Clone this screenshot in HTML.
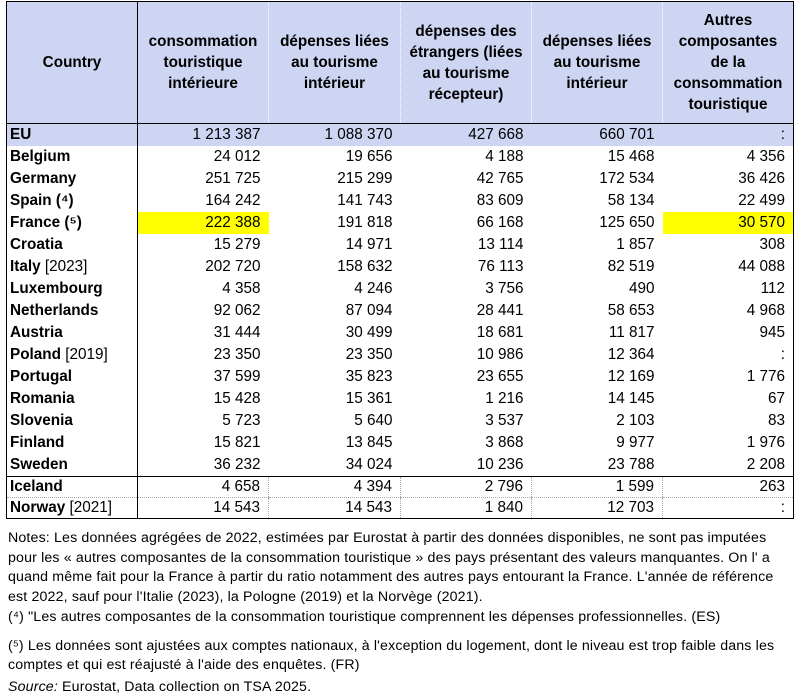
<!DOCTYPE html>
<html><head><meta charset="utf-8"><style>
body{margin:0;background:#fff;width:801px;height:700px;overflow:hidden;font-family:"Liberation Sans",Arial,sans-serif;color:#000}
table{position:absolute;left:6px;top:1px;border-collapse:collapse;table-layout:fixed;font-size:15.3px}
td,th{padding:0 8px 0 3px;height:22px;line-height:22px;white-space:nowrap;text-align:right}
td:first-child{text-align:left;font-weight:bold;padding-left:3px}
th{background:#cdd5f2;font-weight:bold;text-align:center;white-space:normal;line-height:21px;height:121px;padding:0 7px;font-size:15.3px;border-bottom:1.5px solid #000}
th+th{border-left:1px dotted #fff}
th:first-child{border-right:1.5px solid #000}
td:first-child{border-right:1.5px solid #000}
tr.eu td{background:#cdd5f2}
.hl{background:#ffff00}
tr.sep td{border-top:1.5px solid #000}
tr.ext td{border-bottom:1px dotted #aaa;height:20px;line-height:20px}
tr.ext td+td{border-left:1px dotted #aaa}
tr.last td{border-bottom:1.5px solid #000}
.n{font-weight:normal}
.notes{position:absolute;left:8px;top:529px;width:795px;font-size:14.2px;letter-spacing:0.15px;line-height:19.5px;white-space:nowrap}
.notes p{margin:0}
</style></head><body>
<table style="border:1.5px solid #000">
<colgroup><col style="width:131px"><col style="width:131px"><col style="width:132px"><col style="width:131px"><col style="width:131px"><col style="width:131px"></colgroup>
<tr><th>Country</th><th>consommation touristique intérieure</th><th>dépenses liées au tourisme intérieur</th><th>dépenses des étrangers (liées au tourisme récepteur)</th><th>dépenses liées au tourisme intérieur</th><th>Autres composantes de la consommation touristique</th></tr>
<tr class="eu"><td>EU</td><td>1 213 387</td><td>1 088 370</td><td>427 668</td><td>660 701</td><td>:</td></tr>
<tr><td>Belgium</td><td>24 012</td><td>19 656</td><td>4 188</td><td>15 468</td><td>4 356</td></tr>
<tr><td>Germany</td><td>251 725</td><td>215 299</td><td>42 765</td><td>172 534</td><td>36 426</td></tr>
<tr><td>Spain (⁴)</td><td>164 242</td><td>141 743</td><td>83 609</td><td>58 134</td><td>22 499</td></tr>
<tr><td>France (⁵)</td><td class="hl">222 388</td><td>191 818</td><td>66 168</td><td>125 650</td><td class="hl">30 570</td></tr>
<tr><td>Croatia</td><td>15 279</td><td>14 971</td><td>13 114</td><td>1 857</td><td>308</td></tr>
<tr><td>Italy <span class="n">[2023]</span></td><td>202 720</td><td>158 632</td><td>76 113</td><td>82 519</td><td>44 088</td></tr>
<tr><td>Luxembourg</td><td>4 358</td><td>4 246</td><td>3 756</td><td>490</td><td>112</td></tr>
<tr><td>Netherlands</td><td>92 062</td><td>87 094</td><td>28 441</td><td>58 653</td><td>4 968</td></tr>
<tr><td>Austria</td><td>31 444</td><td>30 499</td><td>18 681</td><td>11 817</td><td>945</td></tr>
<tr><td>Poland <span class="n">[2019]</span></td><td>23 350</td><td>23 350</td><td>10 986</td><td>12 364</td><td>:</td></tr>
<tr><td>Portugal</td><td>37 599</td><td>35 823</td><td>23 655</td><td>12 169</td><td>1 776</td></tr>
<tr><td>Romania</td><td>15 428</td><td>15 361</td><td>1 216</td><td>14 145</td><td>67</td></tr>
<tr><td>Slovenia</td><td>5 723</td><td>5 640</td><td>3 537</td><td>2 103</td><td>83</td></tr>
<tr><td>Finland</td><td>15 821</td><td>13 845</td><td>3 868</td><td>9 977</td><td>1 976</td></tr>
<tr><td>Sweden</td><td>36 232</td><td>34 024</td><td>10 236</td><td>23 788</td><td>2 208</td></tr>
<tr class="sep ext"><td>Iceland</td><td>4 658</td><td>4 394</td><td>2 796</td><td>1 599</td><td>263</td></tr>
<tr class="ext last"><td>Norway <span class="n">[2021]</span></td><td>14 543</td><td>14 543</td><td>1 840</td><td>12 703</td><td>:</td></tr>
</table>
<div class="notes">
<p>Notes: Les données agrégées de 2022, estimées par Eurostat à partir des données disponibles, ne sont pas imputées<br>pour les « autres composantes de la consommation touristique » des pays présentant des valeurs manquantes. On l' a<br>quand même fait pour la France à partir du ratio notamment des autres pays entourant la France. L'année de référence<br>est 2022, sauf pour l'Italie (2023), la Pologne (2019) et la Norvège (2021).</p>
<p style="margin-top:1px">(⁴) "Les autres composantes de la consommation touristique comprennent les dépenses professionnelles. (ES)</p>
<p style="margin-top:9px">(⁵) Les données sont ajustées aux comptes nationaux, à l'exception du logement, dont le niveau est trop faible dans les<br>comptes et qui est réajusté à l'aide des enquêtes. (FR)</p>
<p style="margin-top:2px"><i>Source:</i> Eurostat, Data collection on TSA 2025.</p>
</div>
</body></html>
